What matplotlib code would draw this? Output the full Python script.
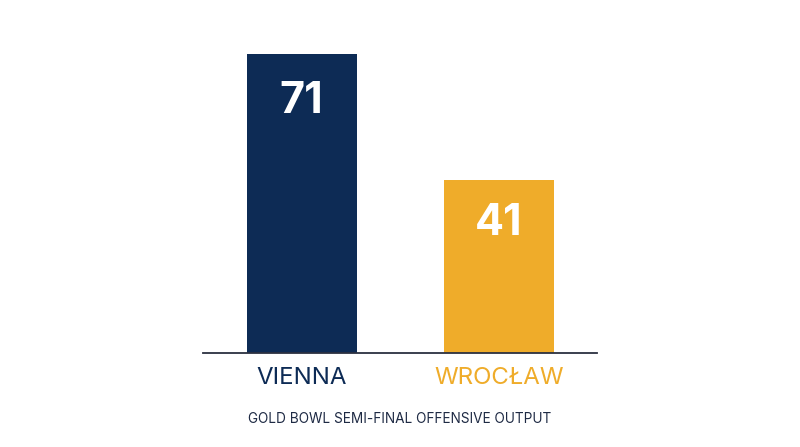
import matplotlib.pyplot as plt

teams = ['VIENNA', 'WROCŁAW']
points = [71, 41]
colors = ['#0d2b55', '#efac2a']
title = 'GOLD BOWL SEMI-FINAL OFFENSIVE OUTPUT'

plt.rcParams['font.family'] = ['Inter', 'DejaVu Sans']

fig = plt.figure(figsize=(8, 4.47), dpi=100)
ax = fig.add_axes([0.254, 0.2103, 0.4925, 0.7535])

x = range(len(teams))
bars = ax.bar(x, points, width=0.56, color=colors)

# value labels inside the bars
offsets = [-34, -31]
for b, v, off in zip(bars, points, offsets):
    ax.annotate(str(v), (b.get_x() + b.get_width() / 2, v),
                xytext=(0, off), textcoords='offset points',
                ha='center', va='center', color='white',
                fontsize=31, fontweight='bold')

ax.set_xlim(-0.5, 1.5)
ax.set_ylim(0, 80)
ax.set_yticks([])
ax.set_xticks(list(x))
ax.set_xticklabels(teams, fontsize=17.3)
for lab, c in zip(ax.get_xticklabels(), colors):
    lab.set_color(c)
ax.tick_params(axis='x', length=0, pad=10)

for s in ['top', 'right', 'left']:
    ax.spines[s].set_visible(False)
ax.spines['bottom'].set_color('#2b3040')
ax.spines['bottom'].set_linewidth(1.3)

fig.text(0.5, 1 - 419 / 447, title, ha='center', va='center',
         fontsize=9.8, color='#1e2a44')

fig.savefig('out.png', dpi=100)
